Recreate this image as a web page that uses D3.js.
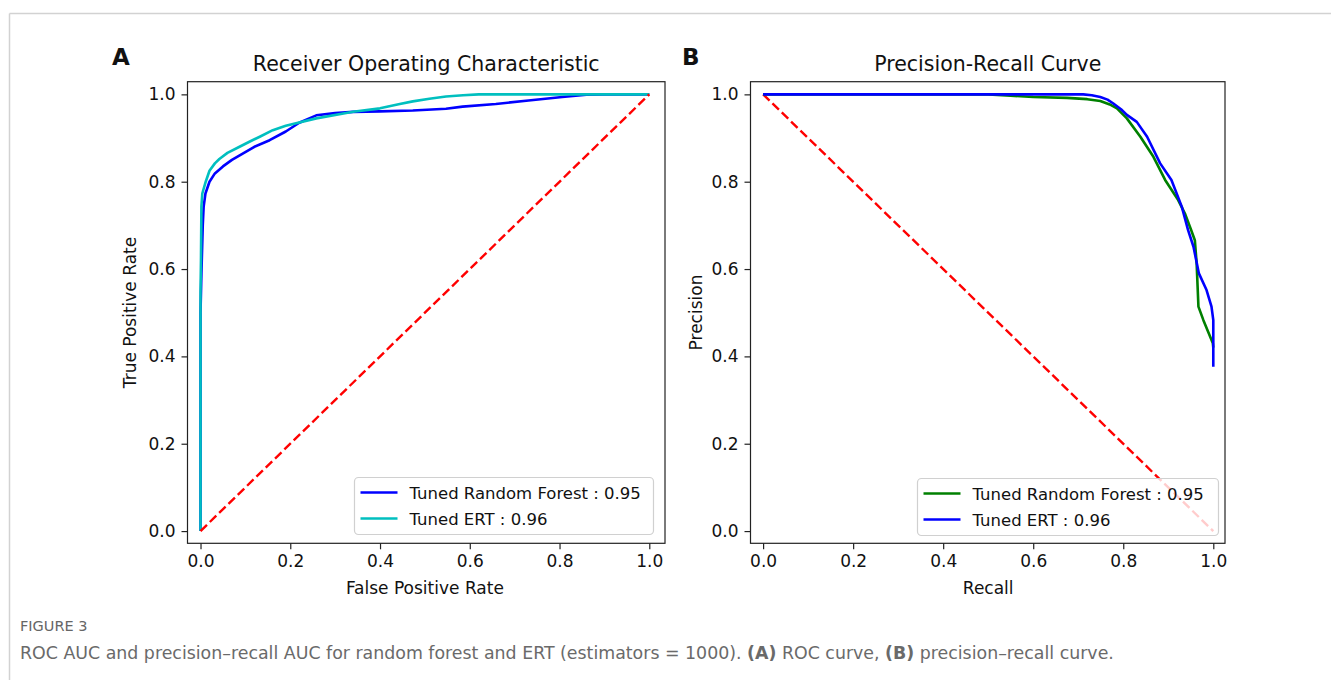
<!DOCTYPE html>
<html>
<head>
<meta charset="utf-8">
<script src="https://cdn.jsdelivr.net/npm/d3@7"></script>
<style>
  body { margin: 0; background: #fff; }
  text { font-family: "DejaVu Sans", sans-serif; fill: #111; }
</style>
</head>
<body>
<svg id="fig" width="1331" height="680"></svg>
<script>
// ---- data ----
const ticks = [0.0, 0.2, 0.4, 0.6, 0.8, 1.0];

// ROC: Tuned Random Forest (blue)
const rfFpr = [0, 0, 0.002, 0.005, 0.007, 0.011, 0.02, 0.032, 0.05, 0.07, 0.095, 0.12, 0.154, 0.19, 0.22, 0.258, 0.3, 0.34, 0.4, 0.473, 0.547, 0.584, 0.658, 0.731, 0.806, 0.86, 0.9, 1.0];
const rfTpr = [0, 0.5, 0.59, 0.7, 0.743, 0.773, 0.8, 0.819, 0.835, 0.85, 0.865, 0.88, 0.895, 0.915, 0.935, 0.952, 0.957, 0.96, 0.961, 0.963, 0.967, 0.972, 0.978, 0.986, 0.994, 0.999, 1.0, 1.0];
// ROC: Tuned ERT (cyan)
const ertFpr = [0, 0, 0.001, 0.002, 0.004, 0.0116, 0.02, 0.032, 0.042, 0.06, 0.087, 0.11, 0.132, 0.161, 0.19, 0.258, 0.34, 0.4, 0.444, 0.473, 0.51, 0.547, 0.585, 0.62, 1.0];
const ertTpr = [0, 0.548, 0.62, 0.743, 0.773, 0.8, 0.825, 0.842, 0.852, 0.866, 0.88, 0.892, 0.903, 0.918, 0.928, 0.945, 0.96, 0.968, 0.978, 0.984, 0.99, 0.995, 0.998, 1.0, 1.0];

// PR: Tuned Random Forest (green)
const rfRecall = [0, 0.5, 0.55, 0.6, 0.675, 0.72, 0.749, 0.77, 0.786, 0.808, 0.838, 0.867, 0.893, 0.922, 0.937, 0.951, 0.959, 0.963, 0.967, 0.978, 0.999, 1.0];
const rfPrecision = [1, 1, 0.997, 0.994, 0.992, 0.989, 0.985, 0.977, 0.968, 0.945, 0.903, 0.857, 0.804, 0.758, 0.727, 0.689, 0.666, 0.613, 0.514, 0.483, 0.43, 0.42];
// PR: Tuned ERT (blue)
const ertRecall = [0, 0.711, 0.73, 0.749, 0.765, 0.778, 0.795, 0.808, 0.83, 0.853, 0.882, 0.907, 0.93, 0.944, 0.956, 0.968, 0.985, 0.996, 1.0, 1.0];
const ertPrecision = [1, 1, 0.998, 0.994, 0.988, 0.979, 0.966, 0.953, 0.937, 0.903, 0.842, 0.804, 0.743, 0.689, 0.651, 0.59, 0.552, 0.514, 0.483, 0.376];

const legendA = ["Tuned Random Forest : 0.95", "Tuned ERT : 0.96"];
const legendB = ["Tuned Random Forest : 0.95", "Tuned ERT : 0.96"];

const svg = d3.select("#fig");
const fs = 17;

// page frame lines
svg.append("line").attr("x1", 9.5).attr("x2", 1331).attr("y1", 13.5).attr("y2", 13.5)
  .attr("stroke", "#d2d2d2").attr("stroke-width", 1.5);
svg.append("line").attr("x1", 9.5).attr("x2", 9.5).attr("y1", 13.5).attr("y2", 680)
  .attr("stroke", "#d2d2d2").attr("stroke-width", 1.5);

function panel(opt) {
  const x = d3.scaleLinear().domain(opt.xlim).range([opt.left, opt.right]);
  const y = d3.scaleLinear().domain(opt.ylim).range([opt.bottom, opt.top]);
  const g = svg.append("g");

  // axes
  g.append("g")
    .attr("transform", `translate(0,${opt.bottom})`)
    .call(d3.axisBottom(x).tickValues(ticks).tickFormat(d3.format(".1f")).tickSize(6).tickPadding(6))
    .call(a => a.select(".domain").remove())
    .call(a => a.selectAll("text").attr("font-size", fs).attr("font-family", "DejaVu Sans").attr("fill", "#111"))
    .call(a => a.selectAll("line").attr("stroke", "#222").attr("stroke-width", 1.2));
  g.append("g")
    .attr("transform", `translate(${opt.left},0)`)
    .call(d3.axisLeft(y).tickValues(ticks).tickFormat(d3.format(".1f")).tickSize(6).tickPadding(6))
    .call(a => a.select(".domain").remove())
    .call(a => a.selectAll("text").attr("font-size", fs).attr("font-family", "DejaVu Sans").attr("fill", "#111"))
    .call(a => a.selectAll("line").attr("stroke", "#222").attr("stroke-width", 1.2));

  const line = d3.line().x(d => x(d[0])).y(d => y(d[1]));
  const plot = g.append("g");
  opt.series.forEach(s => {
    plot.append("path")
      .datum(d3.zip(s.x, s.y))
      .attr("d", line)
      .attr("fill", "none")
      .attr("stroke", s.color)
      .attr("stroke-width", s.dash ? 2.4 : 2.6)
      .attr("stroke-dasharray", s.dash || null)
      .attr("stroke-linejoin", "round");
  });

  // spines
  g.append("rect")
    .attr("x", opt.left).attr("y", opt.top)
    .attr("width", opt.right - opt.left).attr("height", opt.bottom - opt.top)
    .attr("fill", "none").attr("stroke", "#222").attr("stroke-width", 1.2);

  // title + labels
  g.append("text")
    .attr("x", (opt.left + opt.right) / 2).attr("y", 71)
    .attr("text-anchor", "middle").attr("font-size", 20.5)
    .text(opt.title);
  g.append("text")
    .attr("x", x(0.5)).attr("y", 594)
    .attr("text-anchor", "middle").attr("font-size", fs)
    .text(opt.xlabel);
  g.append("text")
    .attr("transform", `translate(${opt.ylabelX},${(opt.top + opt.bottom) / 2}) rotate(-90)`)
    .attr("text-anchor", "middle").attr("font-size", fs)
    .text(opt.ylabel);
  g.append("text")
    .attr("x", opt.letterX).attr("y", 65)
    .attr("font-family", "Liberation Sans, Arial, sans-serif")
    .attr("font-weight", "bold").attr("font-size", 23)
    .text(opt.letter);

  // legend
  const lg = g.append("g");
  lg.append("rect")
    .attr("x", opt.legend.x).attr("y", opt.legend.y)
    .attr("width", opt.legend.w).attr("height", 57)
    .attr("rx", 4)
    .attr("fill", "#fff").attr("fill-opacity", 0.8)
    .attr("stroke", "#d0d0d0").attr("stroke-width", 1.2);
  opt.legend.items.forEach((label, i) => {
    const cy = opt.legend.y + 15 + i * 26;
    lg.append("line")
      .attr("x1", opt.legend.x + 6).attr("x2", opt.legend.x + 43)
      .attr("y1", cy).attr("y2", cy)
      .attr("stroke", opt.legend.colors[i]).attr("stroke-width", 2.6);
    lg.append("text")
      .attr("x", opt.legend.x + 55).attr("y", cy + 6)
      .attr("font-size", 16.5)
      .text(label);
  });
}

panel({
  left: 187.5, right: 665, top: 81.7, bottom: 543.3,
  xlim: [-0.029, 1.035], ylim: [-0.028, 1.029],
  title: "Receiver Operating Characteristic",
  xlabel: "False Positive Rate", ylabel: "True Positive Rate",
  ylabelX: 136, letter: "A", letterX: 112,
  series: [
    { x: rfFpr, y: rfTpr, color: "#0000ff" },
    { x: ertFpr, y: ertTpr, color: "#00bfbf" },
    { x: [0, 1], y: [0, 1], color: "#ff0000", dash: "9,4" }
  ],
  legend: { x: 354.5, y: 477.5, w: 299, items: legendA, colors: ["#0000ff", "#00bfbf"] }
});

panel({
  left: 750.5, right: 1225, top: 81.7, bottom: 543.3,
  xlim: [-0.028, 1.026], ylim: [-0.028, 1.029],
  title: "Precision-Recall Curve",
  xlabel: "Recall", ylabel: "Precision",
  ylabelX: 702, letter: "B", letterX: 682,
  series: [
    { x: [0, 1], y: [1, 0], color: "#ff0000", dash: "9,4" },
    { x: rfRecall, y: rfPrecision, color: "#008000" },
    { x: ertRecall, y: ertPrecision, color: "#0000ff" }
  ],
  legend: { x: 917.5, y: 478.5, w: 301, items: legendB, colors: ["#008000", "#0000ff"] }
});

// caption
svg.append("text")
  .attr("x", 20).attr("y", 631)
  .attr("font-family", "Open Sans, sans-serif").attr("font-size", 14.5)
  .style("fill", "#666")
  .text("FIGURE 3");

const cap = svg.append("text")
  .attr("x", 20).attr("y", 659)
  .attr("font-family", "Open Sans, sans-serif").attr("font-size", 17)
  .style("fill", "#6a6a6a");
cap.append("tspan").text("ROC AUC and precision\u2013recall AUC for random forest and ERT (estimators = 1000). ");
cap.append("tspan").attr("font-weight", "bold").text("(A)");
cap.append("tspan").text(" ROC curve, ");
cap.append("tspan").attr("font-weight", "bold").text("(B)");
cap.append("tspan").text(" precision\u2013recall curve.");
// fit the caption to the width it has in the figure
const w = cap.node().getComputedTextLength();
cap.attr("font-size", 17 * 1095 / w);
</script>
</body>
</html>
